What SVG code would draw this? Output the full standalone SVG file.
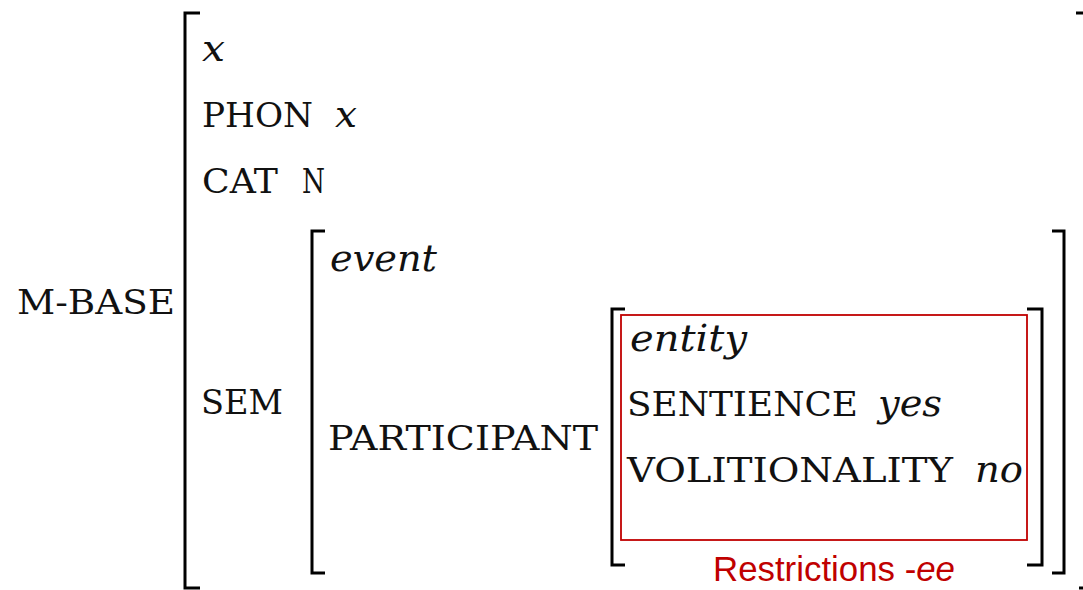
<svg xmlns="http://www.w3.org/2000/svg" width="1083" height="590" viewBox="0 0 1083 590">
<style>
.br{fill:none;stroke:#000;stroke-width:3;stroke-linecap:butt;stroke-linejoin:miter}
.t{font-family:"DejaVu Serif","Liberation Serif",serif;font-size:34px;fill:#111}
.i{font-family:"DejaVu Serif","Liberation Serif",serif;font-style:italic;font-size:37px;fill:#111}
.red{font-family:"Liberation Sans",Arial,sans-serif;font-size:35px;fill:#c00000}
</style>
<rect width="1083" height="590" fill="#fff"/>
<g id="brackets">
<path class="br" d="M200,13 H185 V588 H200"/>
<path class="br" d="M1076,13 H1085 V588 H1079"/>
<path class="br" d="M325,231 H312 V573 H325"/>
<path class="br" d="M1052,231 H1064 V573 H1052"/>
<path class="br" d="M625,309 H612 V565 H625"/>
<path class="br" d="M1027,309 H1042 V565 H1027"/>
</g>
<g id="mbase">
<text class="t" x="17" y="314" textLength="158" lengthAdjust="spacingAndGlyphs">M-BASE</text>
<text class="i" x="202" y="61" textLength="23" lengthAdjust="spacingAndGlyphs">x</text>
<text class="t" x="202" y="127" textLength="111" lengthAdjust="spacingAndGlyphs">PHON</text>
<text class="i" x="335" y="127" textLength="22" lengthAdjust="spacingAndGlyphs">x</text>
<text class="t" x="202" y="193" textLength="76" lengthAdjust="spacingAndGlyphs">CAT</text>
<text class="t" x="302" y="193" textLength="23" lengthAdjust="spacingAndGlyphs">N</text>
<text class="t" x="201" y="414" textLength="82" lengthAdjust="spacingAndGlyphs">SEM</text>
</g>
<g id="sem">
<text class="i" x="330" y="271" textLength="107" lengthAdjust="spacingAndGlyphs">event</text>
<text class="t" x="328" y="450" textLength="270" lengthAdjust="spacingAndGlyphs">PARTICIPANT</text>
</g>
<g id="participant">
<rect x="621" y="315" width="406" height="225" fill="none" stroke="#c00000" stroke-width="1.8"/>
<text class="i" x="630" y="351" textLength="117" lengthAdjust="spacingAndGlyphs">entity</text>
<text class="t" x="627" y="416" textLength="231" lengthAdjust="spacingAndGlyphs">SENTIENCE</text>
<text class="i" x="878" y="416" textLength="64" lengthAdjust="spacingAndGlyphs">yes</text>
<text class="t" x="627" y="482" textLength="326" lengthAdjust="spacingAndGlyphs">VOLITIONALITY</text>
<text class="i" x="975" y="482" textLength="48" lengthAdjust="spacingAndGlyphs">no</text>
<text class="red" x="713" y="581" textLength="242" lengthAdjust="spacingAndGlyphs">Restrictions -<tspan font-style="italic">ee</tspan></text>
</g>
</svg>
